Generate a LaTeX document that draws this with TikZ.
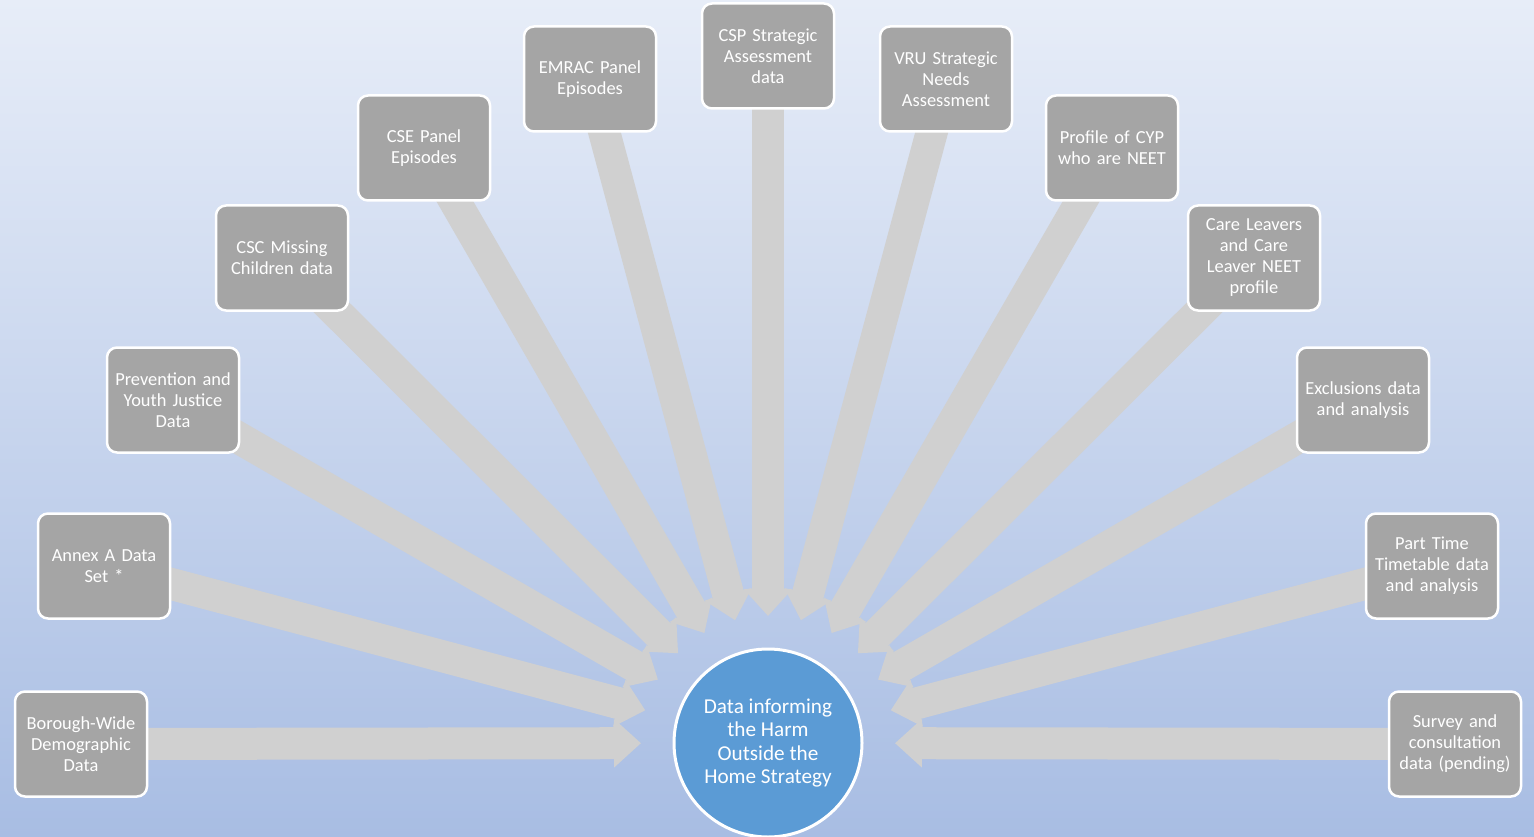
\documentclass[tikz,border=0pt]{standalone}
\usepackage{fontspec}
\setmainfont{Carlito}
\usetikzlibrary{arrows.meta,calc}
\pgfdeclarelayer{bg}
\pgfdeclarelayer{arr}
\pgfsetlayers{bg,arr,main}
\definecolor{boxgray}{HTML}{A5A5A5}
\definecolor{arrgray}{HTML}{D0D0D0}
\definecolor{circblue}{HTML}{5B9BD5}
\definecolor{bgtop}{HTML}{E7EDF8}
\definecolor{bgbot}{HTML}{A8BDE3}
\begin{document}
\begin{tikzpicture}[x=1pt,y=-1pt,
  src/.style={draw=white, line width=2.5pt, fill=boxgray, rounded corners=10pt,
    minimum width=132pt, minimum height=105pt, text width=128pt, align=center,
    text=white, font=\fontsize{18.4}{21}\selectfont, inner sep=0pt},
  hub/.style={circle, draw=white, line width=3pt, fill=circblue, minimum size=188pt,
    inner sep=0pt, align=center, text=white, font=\fontsize{21.2}{23.5}\selectfont},
  feed/.style={arrgray, line width=32pt, -{Triangle[width=47pt,length=27pt]}}]
\useasboundingbox (0,0) rectangle (1534,837);
\begin{pgfonlayer}{bg}
\fill[top color=bgtop, bottom color=bgbot] (0,0) rectangle (1534,837);
\end{pgfonlayer}

\node[hub] (hub) at (768,743) {Data informing\\the Harm\\Outside the\\Home Strategy};

\node[src] (b1) at (81,744) {Borough-Wide\\Demographic\\Data};
\node[src] (b2) at (104,566) {Annex A Data\\Set *};
\node[src] (b3) at (173,400) {Prevention and\\Youth Justice\\Data};
\node[src] (b4) at (282,258) {CSC Missing\\Children data};
\node[src] (b5) at (424,148) {CSE Panel\\Episodes};
\node[src] (b6) at (590,79) {EMRAC Panel\\Episodes};
\node[src] (b7) at (768,56) {CSP Strategic\\Assessment\\data};
\node[src] (b8) at (946,79) {VRU Strategic\\Needs\\Assessment};
\node[src] (b9) at (1112,148) {Profile of CYP\\who are NEET};
\node[src] (b10) at (1254,258) {Care Leavers\\and Care\\Leaver NEET\\profile};
\node[src] (b11) at (1363,400) {Exclusions data\\and analysis};
\node[src] (b12) at (1432,566) {Part Time\\Timetable data\\and analysis};
\node[src] (b13) at (1455,744) {Survey and\\consultation\\data (pending)};

\begin{pgfonlayer}{arr}
\foreach \i in {1,...,13}{
  \coordinate (t\i) at ($(hub)!127pt!(b\i)$);
  \draw[feed] (b\i.center) -- (t\i);
}
\end{pgfonlayer}
\end{tikzpicture}
\end{document}
